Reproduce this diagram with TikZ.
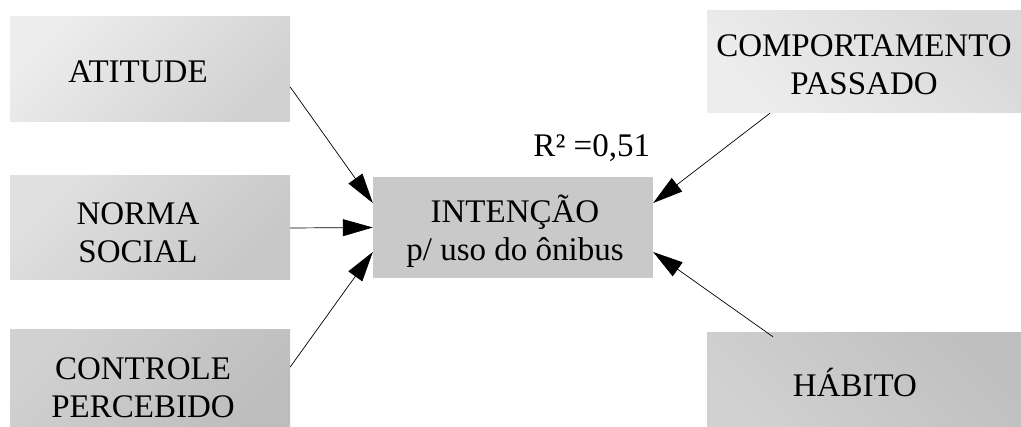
\documentclass[tikz,border=0pt]{standalone}
\usepackage{fontspec}
\setmainfont{Liberation Serif}
\usetikzlibrary{arrows.meta}
\tikzset{
  caixa/.style={minimum width=280pt, inner sep=0pt},
  texto/.style={align=center, inner sep=0pt, font=\fontsize{33}{38}\selectfont},
  seta/.style={-{Triangle[length=30pt,width=17pt]}, line width=0.7pt},
}

\begin{document}
\begin{tikzpicture}[x=1pt,y=-1pt]
  \useasboundingbox (0,0) rectangle (1021,427);
  % left column
  \node[caixa, minimum height=105pt, left color=black!7, right color=black!18, shading angle=45,
    label={[texto, xshift=-12pt, yshift=-2.5pt]center:ATITUDE}] (atitude) at (150,69.5) {};
  \node[caixa, minimum height=104pt, left color=black!12, right color=black!22, shading angle=45,
    label={[texto, xshift=-12pt, yshift=-5pt]center:NORMA\\SOCIAL}] (norma) at (150,228) {};
  \node[caixa, minimum height=110pt, left color=black!18, right color=black!26, shading angle=45,
    label={[texto, xshift=-7pt, yshift=-3pt]center:CONTROLE\\PERCEBIDO}] (controle) at (150,385) {};
  % centre
  \node[caixa, minimum height=101pt, fill=black!21,
    label={[texto, xshift=2pt, yshift=-4pt]center:INTENÇÃO\\p/ uso do ônibus}] (intencao) at (513,227.5) {};
  \node[texto, anchor=base east] (r2) at ([xshift=-3pt,yshift=20pt]intencao.north east) {R² =0,51};
  % right column
  \node[caixa, minimum width=314pt, minimum height=102pt, left color=black!15, right color=black!7, shading angle=-45,
    label={[texto, yshift=-3pt]center:COMPORTAMENTO\\PASSADO}] (comport) at (864,62) {};
  \node[caixa, minimum width=314pt, minimum height=104pt, left color=black!25, right color=black!18, shading angle=-45,
    label={[texto, xshift=-9pt, yshift=3pt]center:HÁBITO}] (habito) at (864,385) {};
  % arrows
  \draw[seta] ([yshift=-17.5pt]atitude.east) -- ([yshift=24.5pt]intencao.west);
  \draw[seta] (norma.east) -- (intencao.west);
  \draw[seta] ([yshift=18pt]controle.east) -- ([yshift=-24.5pt]intencao.west);
  \draw[seta] ([xshift=-94pt]comport.south) -- ([yshift=24.5pt]intencao.east);
  \draw[seta] ([xshift=-91pt,yshift=-4pt]habito.north) -- ([yshift=-24.5pt]intencao.east);
\end{tikzpicture}
\end{document}
